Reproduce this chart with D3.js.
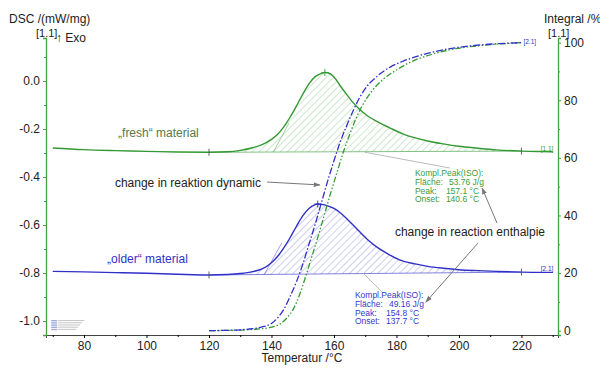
<!DOCTYPE html>
<html>
<head>
<meta charset="utf-8">
<script src="https://cdn.jsdelivr.net/npm/d3@7"></script>
<style>
  body { margin: 0; background: #fff; }
  svg { font-family: "Liberation Sans", Arial, sans-serif; }
</style>
</head>
<body>
<div id="chart"></div>
<script>
// temperatures (°C) and DSC values (mW/mg)
const freshT = [70, 80, 90, 100, 110, 120, 126, 130, 134, 137, 140, 142, 144, 146, 148, 150, 152, 154, 156, 157.1, 158, 160, 162, 164, 166, 168, 171, 174, 178, 182, 186, 190, 195, 200, 206, 212, 220, 226, 230];
const freshDsc = [-0.279, -0.286, -0.290, -0.293, -0.296, -0.297, -0.295, -0.289, -0.278, -0.265, -0.243, -0.222, -0.190, -0.150, -0.104, -0.056, -0.012, 0.018, 0.032, 0.035, 0.034, 0.017, -0.020, -0.055, -0.088, -0.116, -0.148, -0.170, -0.196, -0.220, -0.237, -0.250, -0.262, -0.272, -0.280, -0.287, -0.292, -0.294, -0.295];

const olderT = [70, 80, 90, 100, 110, 120, 126, 130, 134, 137, 140, 142, 144, 146, 148, 150, 152, 154, 154.8, 156, 158, 160, 162, 165, 168, 171, 174, 177, 181, 186, 190, 195, 200, 206, 212, 220, 226, 230];
const olderDsc = [-0.793, -0.795, -0.798, -0.801, -0.805, -0.808, -0.806, -0.802, -0.794, -0.783, -0.757, -0.730, -0.694, -0.652, -0.605, -0.562, -0.531, -0.515, -0.5125, -0.514, -0.520, -0.531, -0.549, -0.585, -0.625, -0.663, -0.694, -0.718, -0.745, -0.762, -0.772, -0.780, -0.786, -0.790, -0.793, -0.796, -0.797, -0.797];

// integral curves (%)
const olderIntT = [120, 125, 130, 134, 137, 140, 142, 144, 146, 148, 150, 152, 154, 156, 158, 160, 162, 164, 166, 168, 170, 174, 178, 182, 188, 195, 205, 212, 220];
const olderInt = [0, 0.1, 0.3, 0.7, 1.3, 2.5, 4.5, 7.5, 12, 17, 23, 30, 37, 44.5, 52, 59, 65.5, 71, 76, 80.5, 84, 88.5, 91.5, 93.5, 95.7, 97.5, 99, 99.6, 100];
const freshIntT = [120, 125, 130, 135, 140, 143, 145, 147, 149, 151, 153, 155, 157, 159, 161, 163, 165, 167, 169, 172, 176, 180, 185, 190, 197, 207, 214, 220];
const freshInt = [0, 0.1, 0.2, 0.5, 1.2, 2.5, 4.5, 7.5, 12.5, 19, 26, 33, 40.5, 48, 55, 62, 68, 73.5, 78, 83, 87.5, 90.5, 93.5, 95.5, 97.5, 99, 99.6, 100];

// peak evaluation results
const peakArea = [53.76, 49.16];
const peakTemp = [157.1, 154.8];
const peakOnset = [140.6, 137.7];
const evalRange = [120, 220];

const xTicks = [80, 100, 120, 140, 160, 180, 200, 220];
const dscTicks = [0.0, -0.2, -0.4, -0.6, -0.8, -1.0];
const intTicks = [0, 20, 40, 60, 80, 100];

const width = 600, height = 369;
const margin = {top: 38, right: 42, bottom: 34, left: 46};

const svg = d3.select("#chart").append("svg")
    .attr("width", width)
    .attr("height", height);

const x = d3.scaleLinear().domain([67.84, 231.7]).range([margin.left, width - margin.right]);
const yDsc = d3.scaleLinear().domain([-1.058, 0.179]).range([height - margin.bottom, margin.top]);
const yInt = d3.scaleLinear().domain([-1.5, 101.6]).range([height - margin.bottom, margin.top]);

const green = "#339933", blue = "#3030c8";
const axisGreen = "#44a044";

// hatch patterns
const defs = svg.append("defs");
[["hatchG", "#9fcf9f"], ["hatchB", "#a0a0e0"]].forEach(([id, c]) => {
  defs.append("pattern")
      .attr("id", id)
      .attr("patternUnits", "userSpaceOnUse")
      .attr("width", 5).attr("height", 5)
      .attr("patternTransform", "rotate(45)")
    .append("line")
      .attr("x1", 0).attr("y1", 0).attr("x2", 0).attr("y2", 5)
      .attr("stroke", c).attr("stroke-width", 1);
});
defs.append("marker")
    .attr("id", "arr")
    .attr("viewBox", "0 0 10 10")
    .attr("refX", 9).attr("refY", 5)
    .attr("markerWidth", 7).attr("markerHeight", 7)
    .attr("orient", "auto-start-reverse")
  .append("path")
    .attr("d", "M0,1.5 L10,5 L0,8.5 Z")
    .attr("fill", "#777");

// axes
const xAxis = svg.append("g")
    .attr("transform", `translate(0,${height - margin.bottom})`)
    .call(d3.axisBottom(x).tickValues(xTicks).tickSize(3).tickFormat(d3.format("d")));
svg.append("g")
    .attr("transform", `translate(0,${height - margin.bottom})`)
    .call(d3.axisBottom(x).tickValues(d3.range(70, 231, 20)).tickSize(2).tickFormat(""))
    .call(g => g.select(".domain").remove());
xAxis.select(".domain").attr("stroke", "#444");
xAxis.selectAll("text").attr("font-size", 12).attr("fill", "#222");

const yAxisL = svg.append("g")
    .attr("transform", `translate(${margin.left},0)`)
    .call(d3.axisLeft(yDsc).tickValues(dscTicks).tickSize(3).tickFormat(d3.format(".1f")));
svg.append("g")
    .attr("transform", `translate(${margin.left},0)`)
    .call(d3.axisLeft(yDsc).tickValues([0.1, -0.1, -0.3, -0.5, -0.7, -0.9]).tickSize(2).tickFormat(""))
    .call(g => g.select(".domain").remove())
    .selectAll("line").attr("stroke", axisGreen);
yAxisL.select(".domain").attr("stroke", axisGreen).attr("stroke-width", 1.3);
yAxisL.selectAll(".tick line").attr("stroke", axisGreen);
yAxisL.selectAll("text").attr("font-size", 12).attr("fill", "#222").text(d => d3.format(".1f")(d).replace("−", "-"));

const yAxisR = svg.append("g")
    .attr("transform", `translate(${width - margin.right},0)`)
    .call(d3.axisRight(yInt).tickValues(intTicks).tickSize(3));
svg.append("g")
    .attr("transform", `translate(${width - margin.right},0)`)
    .call(d3.axisRight(yInt).tickValues([10, 30, 50, 70, 90]).tickSize(2).tickFormat(""))
    .call(g => g.select(".domain").remove())
    .selectAll("line").attr("stroke", axisGreen);
yAxisR.select(".domain").attr("stroke", axisGreen).attr("stroke-width", 1.3);
yAxisR.selectAll(".tick line").attr("stroke", axisGreen);
yAxisR.selectAll("text").attr("font-size", 12).attr("fill", "#222");

// axis titles
const txt = (s, px, py, opts = {}) => svg.append("text")
    .attr("x", px).attr("y", py)
    .attr("font-size", opts.size || 12)
    .attr("fill", opts.fill || "#222")
    .attr("text-anchor", opts.anchor || "start")
    .text(s);
txt("DSC /(mW/mg)", 9, 23);
txt("[1.1]", 36, 37, {size: 11});
txt("↑ Exo", 56, 42);
txt("Integral /%", 544, 23);
txt("[1.1]", 548, 37, {size: 11});
txt("Temperatur /°C", (margin.left + width - margin.right) / 2, 362, {anchor: "middle"});

// DSC curves with hatched peak areas
const series = [
  {t: freshT, v: freshDsc, color: green, hatch: "hatchG", lab: "[1.1]"},
  {t: olderT, v: olderDsc, color: blue, hatch: "hatchB", lab: "[2.1]"}
];
const line = d3.line().x(d => x(d[0])).y(d => yDsc(d[1])).curve(d3.curveMonotoneX);

series.forEach((s, i) => {
  const pts = s.t.map((t, j) => [t, s.v[j]]);
  const valAt = t => {
    const j = d3.bisectLeft(s.t, t);
    if (s.t[j] === t) return s.v[j];
    const f = (t - s.t[j - 1]) / (s.t[j] - s.t[j - 1]);
    return s.v[j - 1] + f * (s.v[j] - s.v[j - 1]);
  };
  const b0 = valAt(evalRange[0]), b1 = valAt(evalRange[1]);
  const base = t => b0 + (b1 - b0) * (t - evalRange[0]) / (evalRange[1] - evalRange[0]);
  const inside = pts.filter(p => p[0] >= evalRange[0] && p[0] <= evalRange[1]);

  svg.append("path")
      .datum(inside)
      .attr("fill", `url(#${s.hatch})`)
      .attr("d", d3.area()
          .x(d => x(d[0]))
          .y0(d => yDsc(base(d[0])))
          .y1(d => yDsc(Math.max(d[1], base(d[0]))))
          .curve(d3.curveMonotoneX));

  // baseline
  svg.append("line")
      .attr("x1", x(evalRange[0])).attr("y1", yDsc(b0))
      .attr("x2", x(evalRange[1])).attr("y2", yDsc(b1))
      .attr("stroke", s.color).attr("stroke-opacity", 0.6).attr("stroke-width", 1);

  // onset tangent: steepest rise on the leading edge, through the onset point
  let best = 0, bi = 0;
  for (let j = 0; j < s.t.length - 1 && s.t[j + 1] <= peakTemp[i]; j++) {
    const sl = (s.v[j + 1] - s.v[j]) / (s.t[j + 1] - s.t[j]);
    if (sl > best) { best = sl; bi = j; }
  }
  const on = peakOnset[i];
  const tEnd = on + 0.6 * ((s.t[bi] + s.t[bi + 1]) / 2 - on);
  svg.append("line")
      .attr("x1", x(on)).attr("y1", yDsc(base(on)))
      .attr("x2", x(tEnd)).attr("y2", yDsc(base(on) + best * (tEnd - on)))
      .attr("stroke", s.color).attr("stroke-opacity", 0.5).attr("stroke-width", 0.9);

  svg.append("path")
      .datum(pts)
      .attr("fill", "none")
      .attr("stroke", s.color)
      .attr("stroke-width", 1.4)
      .attr("d", line);

  // markers at evaluation limits and peak
  [[evalRange[0], b0], [evalRange[1], b1], [peakTemp[i], valAt(peakTemp[i])]].forEach(([t, v], k) => {
    svg.append("line")
        .attr("x1", x(t)).attr("x2", x(t))
        .attr("y1", yDsc(v) - 3.5).attr("y2", yDsc(v) + 3.5)
        .attr("stroke", k === 2 ? s.color : "#555").attr("stroke-width", 0.9);
    if (k === 2) svg.append("line")
        .attr("x1", x(t) - 3.5).attr("x2", x(t) + 3.5)
        .attr("y1", yDsc(v)).attr("y2", yDsc(v))
        .attr("stroke", s.color).attr("stroke-width", 0.9);
  });

  txt(s.lab, x(s.t[s.t.length - 1]) - 12, yDsc(s.v[s.v.length - 1]) - 1, {size: 6.5, fill: s.color});
});

// integral curves
const intLine = d3.line().x(d => x(d[0])).y(d => yInt(d[1])).curve(d3.curveMonotoneX);
svg.append("path")
    .datum(freshIntT.map((t, j) => [t, freshInt[j]]))
    .attr("fill", "none").attr("stroke", green).attr("stroke-width", 1.3)
    .attr("stroke-dasharray", "6,2,1.5,2,1.5,2")
    .attr("d", intLine);
svg.append("path")
    .datum(olderIntT.map((t, j) => [t, olderInt[j]]))
    .attr("fill", "none").attr("stroke", blue).attr("stroke-width", 1.3)
    .attr("stroke-dasharray", "7,2,1.5,2")
    .attr("d", intLine);
txt("[2.1]", x(220) + 2, yInt(100) + 1, {size: 6.5, fill: blue});

// series labels
txt("„fresh“ material", x(90.9), yDsc(-0.233), {fill: "#557a45"});
txt("„older“ material", x(87.4), yDsc(-0.758), {fill: blue});

// peak result boxes (positions in data units)
const boxes = [
  {tx: 185.9, v: -0.396, color: "#3c9c3c", lead: [[169.9, -0.297], [197.1, -0.3625]]},
  {tx: 166.7, v: -0.904, color: "#3838c8", lead: [[169.3, -0.80], [175.4, -0.879]]}
];
boxes.forEach((b, i) => {
  svg.append("line")
      .attr("x1", x(b.lead[0][0])).attr("y1", yDsc(b.lead[0][1]))
      .attr("x2", x(b.lead[1][0])).attr("y2", yDsc(b.lead[1][1]))
      .attr("stroke", "#aaa").attr("stroke-width", 0.8);
  const g = svg.append("g")
      .attr("transform", `translate(${x(b.tx)},${yDsc(b.v)})`)
      .attr("font-size", 8.5).attr("fill", b.color);
  const rows = [
    ["Kompl.Peak(ISO):", ""],
    ["Fläche:", `${peakArea[i].toFixed(2)} J/g`],
    ["Peak:", `${peakTemp[i].toFixed(1)} °C`],
    ["Onset:", `${peakOnset[i].toFixed(1)} °C`]
  ];
  rows.forEach((r, k) => {
    g.append("text").attr("x", 0).attr("y", k * 8.8).text(r[0]);
    g.append("text").attr("x", k === 1 ? 34 : 31).attr("y", k * 8.8).text(r[1]);
  });
});

// annotations
txt("change in reaktion dynamic", x(89.9), yDsc(-0.442));
txt("change in reaction enthalpie", x(179.5), yDsc(-0.645));
const arrows = [
  [[138.6, -0.421], [155.5, -0.433]],
  [[212.2, -0.592], [207.4, -0.446]],
  [[206.1, -0.675], [189.4, -0.921]]
];
arrows.forEach(a => {
  svg.append("line")
      .attr("x1", x(a[0][0])).attr("y1", yDsc(a[0][1]))
      .attr("x2", x(a[1][0])).attr("y2", yDsc(a[1][1]))
      .attr("stroke", "#777").attr("stroke-width", 1)
      .attr("marker-end", "url(#arr)");
});

// small instrument tag bottom-left
const tag = svg.append("g").attr("transform", `translate(${x(69.5)},${yDsc(-1.0) - 1})`);
d3.range(5).forEach(k => {
  tag.append("rect").attr("x", 0).attr("y", k * 2.2).attr("width", 6).attr("height", 1.3).attr("fill", "#9aa8d8");
  tag.append("rect").attr("x", 7).attr("y", k * 2.2).attr("width", 26 - k * 2).attr("height", 1).attr("fill", "#c4c4c4");
});
</script>
</body>
</html>
